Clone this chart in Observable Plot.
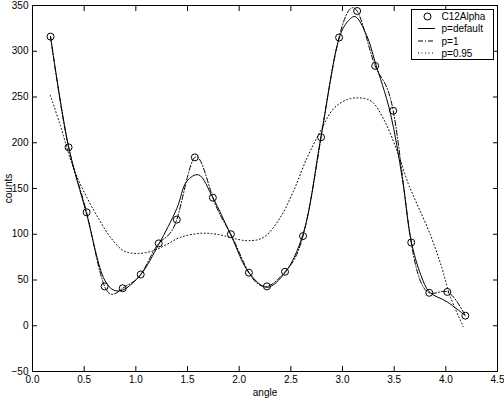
<!DOCTYPE html>
<html><head><meta charset="utf-8">
<script src="https://cdn.jsdelivr.net/npm/d3@7"></script>
<script src="https://cdn.jsdelivr.net/npm/@observablehq/plot@0.6"></script>
<style>
html,body{margin:0;padding:0;background:#fff;}
#chart{width:504px;height:398px;}
</style></head><body><div id="chart"></div>
<script>
// Measured data (C12Alpha)
const angle = [0.1745,0.349,0.5236,0.698,0.8727,1.0472,1.2217,1.3963,1.5708,1.7453,1.9199,2.0944,
               2.2689,2.4435,2.618,2.7925,2.967,3.1416,3.3161,3.4907,3.6652,3.8397,4.0143,4.1888];
const counts = [316,195,124,43,41,56,90,116,184,140,100,58,43,59,98,206,315,344,284,235,91,36,37,11];

// p=default smoothing spline
const defX = [0.1745,0.349,0.5236,0.698,0.785,0.8727,1.0472,1.2217,1.3963,1.494,1.606,1.7453,1.9199,2.0944,
              2.2689,2.4435,2.618,2.7925,2.967,3.04,3.12,3.235,3.3161,3.46,3.58,3.6652,3.76,3.8397,4.0143,4.1888];
const defY = [316,196,122,50,39,39,56,89,128,158,165,140,99,58,
              42,58,100,207,314,331,338,317,288,234,160,92,55,37,26,11];

// p=0.95 smoothing spline
const p95X = [0.172,0.269,0.397,0.527,0.656,0.752,0.881,1.011,1.171,1.301,1.429,1.623,1.784,2.074,2.235,
              2.396,2.525,2.655,2.783,2.912,3.041,3.17,3.283,3.402,3.525,3.637,3.702,3.848,3.96,4.039,4.169];
const p95Y = [252,219,172,140,114,97,82,79,82,89,96.5,101,100,93,96.5,
              118,147,183,212,237,247,249,245,225,192,155,138,100,64,33,-1];

const xTicks = [0,0.5,1,1.5,2,2.5,3,3.5,4,4.5];
const yTicks = [-50,0,50,100,150,200,250,300,350];
const seriesNames = ["C12Alpha","p=default","p=1","p=0.95"];
const dashes = [null, null, "5,2,1,2", "1,2.5"];

const pts = angle.map((a,i)=>({x:a,y:counts[i]}));
const def = defX.map((a,i)=>({x:a,y:defY[i]}));
const p95 = p95X.map((a,i)=>({x:a,y:p95Y[i]}));

const font = "Liberation Sans, Arial, Helvetica, sans-serif";
const plot = Plot.plot({
  width: 504, height: 398,
  marginLeft: 32, marginRight: 7, marginTop: 5, marginBottom: 27,
  style: {fontFamily: font, fontSize: "10px", color: "black", background: "white"},
  x: {domain: [0,4.5]},
  y: {domain: [-50,350]},
  marks: [
    Plot.line(def, {x:"x", y:"y", curve:"catmull-rom", stroke:"black", strokeWidth:1, clip:true}),
    Plot.line(pts, {x:"x", y:"y", curve:"natural", stroke:"black", strokeWidth:1, strokeDasharray:dashes[2], clip:true}),
    Plot.line(p95, {x:"x", y:"y", curve:"catmull-rom", stroke:"black", strokeWidth:1, strokeDasharray:dashes[3], clip:true}),
    Plot.dot(pts, {x:"x", y:"y", r:3.5, stroke:"black", fill:"none", strokeWidth:1}),
    Plot.frame({stroke:"black"}),
    Plot.axisX({ticks:xTicks, anchor:"bottom", tickSize:-5, tickPadding:9, label:"angle", labelAnchor:"center", labelOffset:24, labelArrow:"none"}),
    Plot.axisX({ticks:xTicks, anchor:"top", tickSize:-5, tickFormat:()=>"", label:null}),
    Plot.axisY({ticks:yTicks, anchor:"left", tickSize:-5, tickPadding:9, label:"counts", labelAnchor:"center", labelOffset:28, labelArrow:"none"}),
    Plot.axisY({ticks:yTicks, anchor:"right", tickSize:-5, tickFormat:()=>"", label:null})
  ]
});
document.getElementById("chart").appendChild(plot);

// Legend (inside axes, top-right)
const svg = d3.select(plot);
const g = svg.append("g").attr("font-family", font).attr("font-size", 10).attr("text-anchor", "start");
g.append("rect").attr("x",411.5).attr("y",9.5).attr("width",82).attr("height",50)
  .attr("fill","white").attr("stroke","black");
const rowY = [16.5, 28.5, 41, 53];
seriesNames.forEach((name,i)=>{
  if (i===0) {
    g.append("circle").attr("cx",427.5).attr("cy",rowY[i]).attr("r",3.5).attr("fill","none").attr("stroke","black");
  } else {
    g.append("line").attr("x1",418).attr("x2",435).attr("y1",rowY[i]).attr("y2",rowY[i])
      .attr("stroke","black").attr("stroke-dasharray",dashes[i]);
  }
  g.append("text").attr("x",441.5).attr("y",rowY[i]).attr("dy","0.35em")
    .attr("text-anchor","start").text(name);
});
</script></body></html>
